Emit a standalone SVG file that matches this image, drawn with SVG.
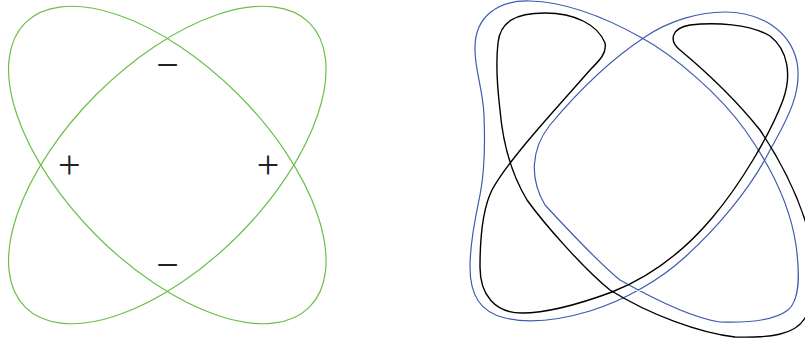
<svg xmlns="http://www.w3.org/2000/svg" width="805" height="345" viewBox="0 0 805 345">
<style>
.g{fill:none;stroke:#6cbf4a;stroke-width:1.2}
.b{fill:none;stroke:#3d5cb0;stroke-width:1.2}
.k{fill:none;stroke:#000;stroke-width:1.4}
.s{font-family:"Liberation Serif",serif;font-size:40px;fill:#222;text-anchor:middle}
</style>
<rect width="805" height="345" fill="#fff"/>
<g id="left">
<g id="ellipse1"><ellipse class="g" cx="167.3" cy="165" rx="201" ry="100" transform="rotate(45 167.3 165)"/></g>
<g id="ellipse2"><ellipse class="g" cx="167.3" cy="165" rx="201" ry="100" transform="rotate(-45 167.3 165)"/></g>
<g id="signs">
<text class="s" x="167.5" y="77.5">−</text>
<text class="s" x="167.5" y="277.5">−</text>
<text class="s" x="69.3" y="177.7">+</text>
<text class="s" x="268" y="177.7">+</text>
</g>
</g>
<g id="right">
<g id="blue"><path class="b" d="M475,50 C474,15 500,0 530,1 C570,2 610,20 642,38 C675,56 720,95 745,130 C770,165 790,205 796,245 C800,275 800,300 788,310 C775,320 750,323 720,322 C692,318 652,298 620,280 C600,264 570,232 545,205 C530,180 530,150 550,125 C575,95 610,60 645,37 C670,20 700,12 725,12 C760,12 790,30 797,62 C802,90 790,115 770,150 C750,190 715,230 685,257 C660,280 625,300 590,311 C560,320 530,324 505,318 C480,312 470,295 470,267 C470,240 476,215 480,195 C485,170 485,140 484,115 C483,90 475,70 475,50 Z"/></g>
<g id="black"><path class="k" d="M498,43 C500,22 515,13 545,13 C575,13 598,25 605,43 C607,53 600,60 590,70 C555,110 508,160 492,190 C482,210 480,240 480,267 C480,295 495,313 522,313 C550,313 585,302 612,292 C650,277 685,250 712,218 C740,185 770,135 783,100 C792,75 788,50 770,36 C750,24 715,22 690,25 C672,28 668,40 680,50 C710,75 740,105 760,130 C780,160 798,195 808,230 C815,260 815,300 805,318 C795,335 770,338 735,337 C700,333 650,315 610,290 C585,270 545,225 527,200 C512,175 503,145 500,110 C497,85 496,60 498,43 Z"/></g>
</g>
</svg>
